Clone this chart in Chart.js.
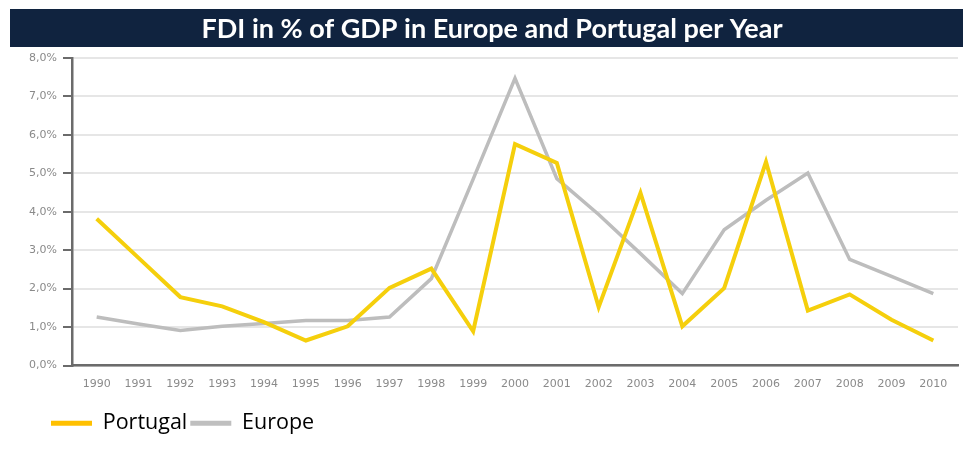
<!DOCTYPE html>
<html>
<head>
<meta charset="utf-8">
<title>FDI in % of GDP</title>
<script src="https://cdn.jsdelivr.net/npm/chart.js@4/dist/chart.umd.min.js"></script>
<style>
  body { margin: 0; background: #fff; }
  canvas { display: block; }
</style>
</head>
<body>
<canvas id="fdiChart" width="963" height="452"></canvas>
<script>
var years = [1990, 1991, 1992, 1993, 1994, 1995, 1996, 1997, 1998, 1999, 2000,
             2001, 2002, 2003, 2004, 2005, 2006, 2007, 2008, 2009, 2010];
var portugal = [3.82, 2.80, 1.78, 1.54, 1.13, 0.65, 1.02, 2.02, 2.52, 0.89, 5.76,
                5.27, 1.52, 4.49, 1.02, 2.01, 5.30, 1.43, 1.85, 1.19, 0.65];
var europe = [1.26, 1.08, 0.91, 1.02, 1.09, 1.17, 1.17, 1.26, 2.26, 4.85, 7.47,
              4.86, 3.93, 2.91, 1.87, 3.53, 4.30, 5.01, 2.76, 2.32, 1.87];
var yTicks = [0, 1, 2, 3, 4, 5, 6, 7, 8];

var titleText = 'FDI in % of GDP in Europe and Portugal per Year';

function points(vals) {
    return vals.map(function (v, i) { return { x: years[i], y: v }; });
}

// dark banner with the title across the top
var titleBar = {
    id: 'titleBar',
    beforeDraw: function (chart) {
        var c = chart.ctx;
        c.save();
        c.fillStyle = '#10233f';
        c.fillRect(10, 9, 953, 38);
        c.fillStyle = '#ffffff';
        c.font = 'bold 27px Lato';
        c.textAlign = 'center';
        c.textBaseline = 'middle';
        c.fillText(titleText, 492, 29);
        c.restore();
    }
};

// push the legend in a bit from the left edge
var legendIndent = {
    id: 'legendIndent',
    afterLayout: function (chart) {
        chart.legend.left = 48;
    }
};

var ctx = document.getElementById('fdiChart').getContext('2d');
var fdiChart = new Chart(ctx, {
    type: 'line',
    data: {
        datasets: [{
            label: 'Portugal',
            data: points(portugal),
            borderColor: '#f5cf0c',
            borderWidth: 4,
            pointRadius: 0,
            tension: 0
        }, {
            label: 'Europe',
            data: points(europe),
            borderColor: '#bdbdbd',
            borderWidth: 3.5,
            pointRadius: 0,
            tension: 0
        }]
    },
    options: {
        responsive: false,
        animation: false,
        layout: { padding: { top: 58, left: 0, right: 5, bottom: 8 } },
        scales: {
            x: {
                type: 'linear',
                min: 1989.41,
                max: 2010.59,
                afterFit: function (s) { s.height = 44; },
                grid: { display: true, drawOnChartArea: false, drawTicks: false },
                border: { color: '#6b6b6b', width: 2.5 },
                ticks: {
                    stepSize: 1,
                    includeBounds: false,
                    padding: 12,
                    color: '#8a8a8a',
                    font: { family: 'DejaVu Sans', size: 11 },
                    callback: function (v) { return String(v); }
                }
            },
            y: {
                min: yTicks[0],
                max: yTicks[yTicks.length - 1],
                afterFit: function (s) { s.width = 72; },
                afterBuildTicks: function (s) {
                    s.ticks = yTicks.map(function (v) { return { value: v }; });
                },
                grid: { color: '#e6e6e6', lineWidth: 2, tickColor: '#6b6b6b', tickLength: 9 },
                border: { color: '#6b6b6b', width: 2.5 },
                ticks: {
                    padding: 6,
                    color: '#8a8a8a',
                    font: { family: 'DejaVu Sans', size: 11 },
                    callback: function (v) { return v.toFixed(1).replace('.', ',') + '%'; }
                }
            }
        },
        plugins: {
            tooltip: { enabled: false },
            legend: {
                position: 'bottom',
                align: 'start',
                labels: {
                    boxWidth: 41,
                    boxHeight: 5,
                    padding: 3,
                    color: '#111111',
                    font: { family: 'Open Sans', size: 21.5 },
                    generateLabels: function () {
                        return [
                            { text: 'Portugal', fillStyle: '#ffc000', strokeStyle: '#ffc000', lineWidth: 0, datasetIndex: 0 },
                            { text: 'Europe', fillStyle: '#bfbfbf', strokeStyle: '#bfbfbf', lineWidth: 0, datasetIndex: 1 }
                        ];
                    }
                }
            }
        }
    },
    plugins: [titleBar, legendIndent]
});
</script>
</body>
</html>
